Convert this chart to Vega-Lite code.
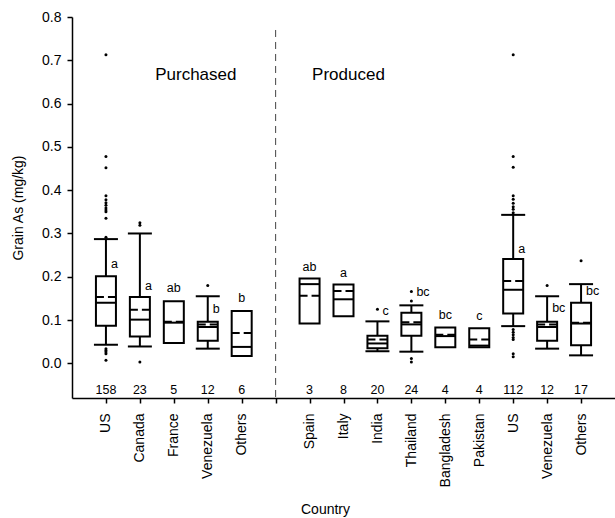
{
  "$schema": "https://vega.github.io/schema/vega-lite/v6.json",
  "width": 543,
  "height": 381,
  "autosize": "none",
  "padding": {"left": 72, "top": 17, "right": 0, "bottom": 120},
  "config": {
    "view": {"stroke": null},
    "font": "Arial",
    "axis": {"grid": false, "domainColor": "black", "domainWidth": 1.5, "tickColor": "black", "tickWidth": 1.5, "tickSize": 5, "labelColor": "black", "titleColor": "black", "labelFont": "Arial", "titleFont": "Arial", "titleFontWeight": "normal", "labelFontSize": 14, "titleFontSize": 14},
    "axisX": {"labelAngle": -90, "labelAlign": "right", "labelBaseline": "middle", "labelPadding": 10, "titlePadding": 16, "titleX": 253},
    "axisY": {"labelPadding": 6, "titlePadding": 16, "titleFontSize": 14}
  },
  "datasets": {
    "boxes": [
      {"key": "Pur US", "n": 158, "lo": 0.043, "q1": 0.087, "med": 0.140, "mean": 0.153, "q3": 0.201, "hi": 0.287, "letter": "a", "ly": 0.230},
      {"key": "Pur Canada", "n": 23, "lo": 0.039, "q1": 0.062, "med": 0.101, "mean": 0.124, "q3": 0.153, "hi": 0.300, "letter": "a", "ly": 0.178},
      {"key": "Pur France", "n": 5, "lo": 0.047, "q1": 0.047, "med": 0.094, "mean": 0.096, "q3": 0.1435, "hi": 0.1435, "letter": "ab", "ly": 0.175},
      {"key": "Pur Venezuela", "n": 12, "lo": 0.034, "q1": 0.052, "med": 0.084, "mean": 0.090, "q3": 0.096, "hi": 0.155, "letter": "b", "ly": 0.125},
      {"key": "Pur Others", "n": 6, "lo": 0.017, "q1": 0.017, "med": 0.038, "mean": 0.070, "q3": 0.121, "hi": 0.121, "letter": "b", "ly": 0.150},
      {"key": "Pro Spain", "n": 3, "lo": 0.092, "q1": 0.092, "med": 0.183, "mean": 0.156, "q3": 0.196, "hi": 0.196, "letter": "ab", "ly": 0.223},
      {"key": "Pro Italy", "n": 8, "lo": 0.109, "q1": 0.109, "med": 0.148, "mean": 0.167, "q3": 0.182, "hi": 0.182, "letter": "a", "ly": 0.208},
      {"key": "Pro India", "n": 20, "lo": 0.028, "q1": 0.035, "med": 0.046, "mean": 0.055, "q3": 0.064, "hi": 0.097, "letter": "c", "ly": 0.121},
      {"key": "Pro Thailand", "n": 24, "lo": 0.027, "q1": 0.064, "med": 0.090, "mean": 0.095, "q3": 0.117, "hi": 0.134, "letter": "bc", "ly": 0.164},
      {"key": "Pro Bangladesh", "n": 4, "lo": 0.037, "q1": 0.037, "med": 0.063, "mean": 0.066, "q3": 0.083, "hi": 0.083, "letter": "bc", "ly": 0.111},
      {"key": "Pro Pakistan", "n": 4, "lo": 0.037, "q1": 0.037, "med": 0.041, "mean": 0.055, "q3": 0.081, "hi": 0.081, "letter": "c", "ly": 0.109},
      {"key": "Pro US", "n": 112, "lo": 0.086, "q1": 0.115, "med": 0.170, "mean": 0.190, "q3": 0.241, "hi": 0.343, "letter": "a", "ly": 0.264},
      {"key": "Pro Venezuela", "n": 12, "lo": 0.034, "q1": 0.052, "med": 0.084, "mean": 0.090, "q3": 0.096, "hi": 0.155, "letter": "bc", "ly": 0.127},
      {"key": "Pro Others", "n": 17, "lo": 0.0185, "q1": 0.042, "med": 0.092, "mean": 0.094, "q3": 0.140, "hi": 0.183, "letter": "bc", "ly": 0.167}
    ],
    "outliers": [
      {"key": "Pur US", "v": 0.713}, {"key": "Pur US", "v": 0.478}, {"key": "Pur US", "v": 0.452}, {"key": "Pur US", "v": 0.387},
      {"key": "Pur US", "v": 0.378}, {"key": "Pur US", "v": 0.371}, {"key": "Pur US", "v": 0.365}, {"key": "Pur US", "v": 0.359},
      {"key": "Pur US", "v": 0.354}, {"key": "Pur US", "v": 0.350}, {"key": "Pur US", "v": 0.335}, {"key": "Pur US", "v": 0.291},
      {"key": "Pur US", "v": 0.034}, {"key": "Pur US", "v": 0.030}, {"key": "Pur US", "v": 0.026}, {"key": "Pur US", "v": 0.022}, {"key": "Pur US", "v": 0.007},
      {"key": "Pur Canada", "v": 0.325}, {"key": "Pur Canada", "v": 0.319}, {"key": "Pur Canada", "v": 0.003},
      {"key": "Pur Venezuela", "v": 0.180},
      {"key": "Pro India", "v": 0.125},
      {"key": "Pro Thailand", "v": 0.166}, {"key": "Pro Thailand", "v": 0.144}, {"key": "Pro Thailand", "v": 0.011}, {"key": "Pro Thailand", "v": 0.003},
      {"key": "Pro US", "v": 0.713}, {"key": "Pro US", "v": 0.478}, {"key": "Pro US", "v": 0.453}, {"key": "Pro US", "v": 0.387},
      {"key": "Pro US", "v": 0.379}, {"key": "Pro US", "v": 0.370}, {"key": "Pro US", "v": 0.362}, {"key": "Pro US", "v": 0.356}, {"key": "Pro US", "v": 0.348},
      {"key": "Pro US", "v": 0.078}, {"key": "Pro US", "v": 0.072}, {"key": "Pro US", "v": 0.066}, {"key": "Pro US", "v": 0.060}, {"key": "Pro US", "v": 0.055},
      {"key": "Pro US", "v": 0.022}, {"key": "Pro US", "v": 0.015},
      {"key": "Pro Venezuela", "v": 0.180},
      {"key": "Pro Others", "v": 0.237}
    ]
  },
  "encoding": {
    "x": {"field": "key", "type": "ordinal",
      "scale": {"type": "point", "padding": 1, "domain": ["Pur US", "Pur Canada", "Pur France", "Pur Venezuela", "Pur Others", "----", "Pro Spain", "Pro Italy", "Pro India", "Pro Thailand", "Pro Bangladesh", "Pro Pakistan", "Pro US", "Pro Venezuela", "Pro Others"]},
      "axis": {"title": "Country", "labelExpr": "datum.value == '----' ? '' : slice(datum.value, 4)"}}
  },
  "layer": [
    {
      "data": {"values": [{}]},
      "mark": {"type": "rule", "strokeDash": [7, 5], "strokeWidth": 1, "color": "#444"},
      "encoding": {
        "x": {"datum": "----", "type": "ordinal",
          "scale": {"type": "point", "padding": 1, "domain": ["Pur US", "Pur Canada", "Pur France", "Pur Venezuela", "Pur Others", "----", "Pro Spain", "Pro Italy", "Pro India", "Pro Thailand", "Pro Bangladesh", "Pro Pakistan", "Pro US", "Pro Venezuela", "Pro Others"]},
          "axis": {"title": "Country", "labelExpr": "datum.value == '----' ? '' : slice(datum.value, 4)"}},
        "y": {"datum": 0.77, "type": "quantitative", "scale": {"domain": [-0.08, 0.8], "nice": false, "zero": false},
          "axis": {"title": "Grain As (mg/kg)", "values": [0, 0.1, 0.2, 0.3, 0.4, 0.5, 0.6, 0.7, 0.8], "format": ".1f"}},
        "y2": {"datum": -0.08}
      }
    },
    {
      "data": {"name": "boxes"},
      "mark": {"type": "rule", "strokeWidth": 2, "color": "black"},
      "encoding": {
        "y": {"field": "lo", "type": "quantitative", "scale": {"domain": [-0.08, 0.8], "nice": false, "zero": false}, "axis": {"title": "Grain As (mg/kg)", "values": [0, 0.1, 0.2, 0.3, 0.4, 0.5, 0.6, 0.7, 0.8], "format": ".1f"}},
        "y2": {"field": "hi"}
      }
    },
    {
      "data": {"name": "boxes"},
      "mark": {"type": "bar", "width": 20, "fill": "white", "stroke": "black", "strokeWidth": 2},
      "encoding": {
        "y": {"field": "q1", "type": "quantitative", "scale": {"domain": [-0.08, 0.8], "nice": false, "zero": false}, "axis": {"title": "Grain As (mg/kg)", "values": [0, 0.1, 0.2, 0.3, 0.4, 0.5, 0.6, 0.7, 0.8], "format": ".1f"}},
        "y2": {"field": "q3"}
      }
    },
    {
      "data": {"name": "boxes"},
      "mark": {"type": "tick", "size": 20, "thickness": 2, "color": "black", "opacity": 1},
      "encoding": {
        "y": {"field": "med", "type": "quantitative", "scale": {"domain": [-0.08, 0.8], "nice": false, "zero": false}, "axis": {"title": "Grain As (mg/kg)", "values": [0, 0.1, 0.2, 0.3, 0.4, 0.5, 0.6, 0.7, 0.8], "format": ".1f"}}
      }
    },
    {
      "data": {"name": "boxes"},
      "mark": {"type": "point", "shape": "M-1,0H-0.2M0.2,0H1", "size": 400, "filled": false, "stroke": "black", "strokeWidth": 2, "opacity": 1},
      "encoding": {
        "y": {"field": "mean", "type": "quantitative", "scale": {"domain": [-0.08, 0.8], "nice": false, "zero": false}, "axis": {"title": "Grain As (mg/kg)", "values": [0, 0.1, 0.2, 0.3, 0.4, 0.5, 0.6, 0.7, 0.8], "format": ".1f"}}
      }
    },
    {
      "data": {"name": "boxes"},
      "transform": [{"filter": "datum.hi > datum.q3"}],
      "mark": {"type": "tick", "size": 24, "thickness": 2, "color": "black", "opacity": 1},
      "encoding": {
        "y": {"field": "hi", "type": "quantitative", "scale": {"domain": [-0.08, 0.8], "nice": false, "zero": false}, "axis": {"title": "Grain As (mg/kg)", "values": [0, 0.1, 0.2, 0.3, 0.4, 0.5, 0.6, 0.7, 0.8], "format": ".1f"}}
      }
    },
    {
      "data": {"name": "boxes"},
      "transform": [{"filter": "datum.lo < datum.q1"}],
      "mark": {"type": "tick", "size": 24, "thickness": 2, "color": "black", "opacity": 1},
      "encoding": {
        "y": {"field": "lo", "type": "quantitative", "scale": {"domain": [-0.08, 0.8], "nice": false, "zero": false}, "axis": {"title": "Grain As (mg/kg)", "values": [0, 0.1, 0.2, 0.3, 0.4, 0.5, 0.6, 0.7, 0.8], "format": ".1f"}}
      }
    },
    {
      "data": {"name": "outliers"},
      "mark": {"type": "point", "filled": true, "size": 9, "color": "black", "opacity": 1},
      "encoding": {
        "y": {"field": "v", "type": "quantitative", "scale": {"domain": [-0.08, 0.8], "nice": false, "zero": false}, "axis": {"title": "Grain As (mg/kg)", "values": [0, 0.1, 0.2, 0.3, 0.4, 0.5, 0.6, 0.7, 0.8], "format": ".1f"}}
      }
    },
    {
      "data": {"name": "boxes"},
      "mark": {"type": "text", "fontSize": 12.5, "color": "black", "baseline": "middle", "align": "center"},
      "encoding": {
        "y": {"datum": -0.0625, "type": "quantitative", "scale": {"domain": [-0.08, 0.8], "nice": false, "zero": false}, "axis": {"title": "Grain As (mg/kg)", "values": [0, 0.1, 0.2, 0.3, 0.4, 0.5, 0.6, 0.7, 0.8], "format": ".1f"}},
        "text": {"field": "n", "type": "quantitative"}
      }
    },
    {
      "data": {"name": "boxes"},
      "transform": [{"filter": "datum.hi > datum.q3"}],
      "mark": {"type": "text", "fontSize": 12.5, "color": "black", "baseline": "middle", "align": "left", "dx": 5},
      "encoding": {
        "y": {"field": "ly", "type": "quantitative", "scale": {"domain": [-0.08, 0.8], "nice": false, "zero": false}, "axis": {"title": "Grain As (mg/kg)", "values": [0, 0.1, 0.2, 0.3, 0.4, 0.5, 0.6, 0.7, 0.8], "format": ".1f"}},
        "text": {"field": "letter", "type": "nominal"}
      }
    },
    {
      "data": {"name": "boxes"},
      "transform": [{"filter": "datum.hi <= datum.q3"}],
      "mark": {"type": "text", "fontSize": 12.5, "color": "black", "baseline": "middle", "align": "center"},
      "encoding": {
        "y": {"field": "ly", "type": "quantitative", "scale": {"domain": [-0.08, 0.8], "nice": false, "zero": false}, "axis": {"title": "Grain As (mg/kg)", "values": [0, 0.1, 0.2, 0.3, 0.4, 0.5, 0.6, 0.7, 0.8], "format": ".1f"}},
        "text": {"field": "letter", "type": "nominal"}
      }
    },
    {
      "data": {"values": [{}]},
      "mark": {"type": "text", "text": "Purchased", "fontSize": 17, "color": "black", "baseline": "middle", "align": "center", "dx": 22},
      "encoding": {
        "x": {"datum": "Pur France", "type": "ordinal",
          "scale": {"type": "point", "padding": 1, "domain": ["Pur US", "Pur Canada", "Pur France", "Pur Venezuela", "Pur Others", "----", "Pro Spain", "Pro Italy", "Pro India", "Pro Thailand", "Pro Bangladesh", "Pro Pakistan", "Pro US", "Pro Venezuela", "Pro Others"]},
          "axis": {"title": "Country", "labelExpr": "datum.value == '----' ? '' : slice(datum.value, 4)"}},
        "y": {"datum": 0.665, "type": "quantitative", "scale": {"domain": [-0.08, 0.8], "nice": false, "zero": false}, "axis": {"title": "Grain As (mg/kg)", "values": [0, 0.1, 0.2, 0.3, 0.4, 0.5, 0.6, 0.7, 0.8], "format": ".1f"}}
      }
    },
    {
      "data": {"values": [{}]},
      "mark": {"type": "text", "text": "Produced", "fontSize": 17, "color": "black", "baseline": "middle", "align": "center", "dx": 5},
      "encoding": {
        "x": {"datum": "Pro Italy", "type": "ordinal",
          "scale": {"type": "point", "padding": 1, "domain": ["Pur US", "Pur Canada", "Pur France", "Pur Venezuela", "Pur Others", "----", "Pro Spain", "Pro Italy", "Pro India", "Pro Thailand", "Pro Bangladesh", "Pro Pakistan", "Pro US", "Pro Venezuela", "Pro Others"]},
          "axis": {"title": "Country", "labelExpr": "datum.value == '----' ? '' : slice(datum.value, 4)"}},
        "y": {"datum": 0.665, "type": "quantitative", "scale": {"domain": [-0.08, 0.8], "nice": false, "zero": false}, "axis": {"title": "Grain As (mg/kg)", "values": [0, 0.1, 0.2, 0.3, 0.4, 0.5, 0.6, 0.7, 0.8], "format": ".1f"}}
      }
    }
  ]
}
